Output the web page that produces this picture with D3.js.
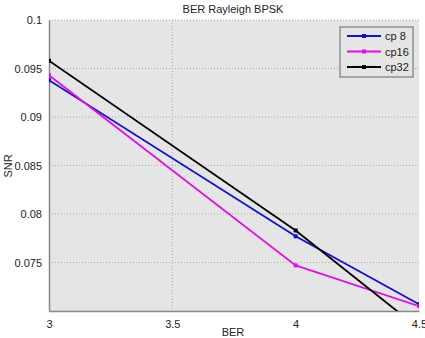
<!DOCTYPE html>
<html>
<head>
<meta charset="utf-8">
<script src="https://cdn.jsdelivr.net/npm/d3@7"></script>
<style>
  body { margin: 0; background: #fff; }
  text { font-family: "Liberation Sans", Arial, sans-serif; fill: #222; }
</style>
</head>
<body>
<svg width="425" height="338"></svg>
<script>
const WIDTH = 425;
const HEIGHT = 338;
const margin = { top: 20, right: 6, bottom: 27, left: 49 };

const berValues = [3, 4, 4.5];
const cp8 = [0.0938, 0.0777, 0.0707];
const cp16 = [0.0943, 0.0747, 0.0705];
const cp32 = [0.0958, 0.0783, 0.0682];
const seriesNames = ["cp 8", "cp16", "cp32"];
const seriesColors = ["#1010d0", "#e010e0", "#000000"];
const xTicks = [3, 3.5, 4, 4.5];
const yTicks = [0.075, 0.08, 0.085, 0.09, 0.095, 0.1];

const svg = d3.select("svg");
const innerW = WIDTH - margin.left - margin.right;
const innerH = HEIGHT - margin.top - margin.bottom;

const x = d3.scaleLinear().domain([3, 4.5]).range([margin.left, margin.left + innerW]);
const y = d3.scaleLinear().domain([0.07, 0.1]).range([margin.top + innerH, margin.top]);

svg.append("rect")
  .attr("x", margin.left).attr("y", margin.top)
  .attr("width", innerW).attr("height", innerH)
  .attr("fill", "#e5e5e5");

// grid
svg.append("g").selectAll("line").data(yTicks).enter().append("line")
  .attr("x1", margin.left).attr("x2", margin.left + innerW)
  .attr("y1", d => y(d)).attr("y2", d => y(d))
  .attr("stroke", "#aaa").attr("stroke-width", 1).attr("stroke-dasharray", "1,2");
svg.append("line")
  .attr("x1", x(3.5)).attr("x2", x(3.5))
  .attr("y1", margin.top).attr("y2", margin.top + innerH)
  .attr("stroke", "#aaa").attr("stroke-dasharray", "1,2");

// axes
const xAxis = svg.append("g")
  .attr("transform", `translate(0,${margin.top + innerH})`)
  .call(d3.axisBottom(x).tickValues(xTicks).tickSize(0).tickPadding(9).tickFormat(d3.format("")));
const yAxis = svg.append("g")
  .attr("transform", `translate(${margin.left},0)`)
  .call(d3.axisLeft(y).tickValues(yTicks).tickSize(0).tickPadding(7).tickFormat(d3.format("")));
[xAxis, yAxis].forEach(a => {
  a.select(".domain").attr("stroke", "#888").attr("stroke-width", 1.5);
  a.selectAll("text").style("font-size", "11px").attr("fill", "#222");
});

// clip
svg.append("clipPath").attr("id", "clip").append("rect")
  .attr("x", margin.left).attr("y", margin.top).attr("width", innerW).attr("height", innerH);

const line = d3.line().x((d, i) => x(berValues[i])).y(d => y(d));
const allSeries = [cp8, cp16, cp32];
const plot = svg.append("g").attr("clip-path", "url(#clip)");
allSeries.forEach((s, k) => {
  plot.append("path").datum(s)
    .attr("d", line).attr("fill", "none")
    .attr("stroke", seriesColors[k]).attr("stroke-width", 1.8);
  plot.selectAll(null).data(s).enter().append("rect")
    .attr("x", (d, i) => x(berValues[i]) - 2).attr("y", d => y(d) - 2)
    .attr("width", 4).attr("height", 4).attr("fill", seriesColors[k]);
});

// legend
const lg = svg.append("g");
lg.append("rect").attr("x", 340).attr("y", 27).attr("width", 73).attr("height", 50)
  .attr("fill", "#e5e5e5").attr("stroke", "#666").attr("stroke-width", 1);
seriesNames.forEach((n, k) => {
  const ly = 36 + k * 15.5;
  lg.append("line").attr("x1", 347).attr("x2", 381).attr("y1", ly).attr("y2", ly)
    .attr("stroke", seriesColors[k]).attr("stroke-width", 1.8);
  lg.append("rect").attr("x", 362).attr("y", ly - 2).attr("width", 4).attr("height", 4)
    .attr("fill", seriesColors[k]);
  lg.append("text").attr("x", 385).attr("y", ly + 4).style("font-size", "11px").text(n);
});

// titles
svg.append("text").attr("x", 233).attr("y", 13).attr("text-anchor", "middle")
  .style("font-size", "11px").text("BER Rayleigh BPSK");
svg.append("text").attr("x", 233).attr("y", 336).attr("text-anchor", "middle")
  .style("font-size", "11px").text("BER");
svg.append("text").attr("transform", "translate(12,166) rotate(-90)").attr("text-anchor", "middle")
  .style("font-size", "11px").text("SNR");
</script>
</body>
</html>
